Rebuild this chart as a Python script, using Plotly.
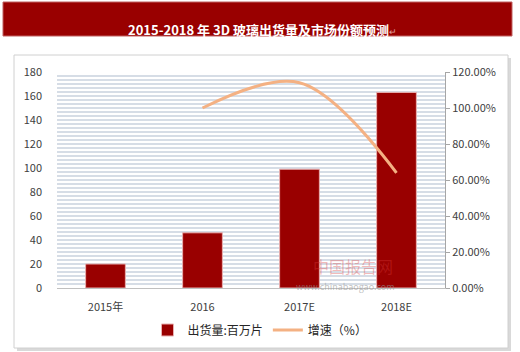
import plotly.graph_objects as go

categories = ["2015年", "2016", "2017E", "2018E"]
shipments = [20, 46, 99, 163]
growth_pct = [None, 100, 114, 64]
y_left_ticks = [0, 20, 40, 60, 80, 100, 120, 140, 160, 180]
y_right_ticks = [0, 20, 40, 60, 80, 100, 120]
y_right_labels = ["0.00%", "20.00%", "40.00%", "60.00%", "80.00%", "100.00%", "120.00%"]

FONT = "Noto Sans CJK SC, Noto Sans, sans-serif"
W, H = 520, 352
L, R, T, B = 57, 75, 72, 64
PW, PH = W - L - R, H - T - B


def px(x):
    return (x - L) / PW


def py(y):
    return (H - B - y) / PH


fig = go.Figure()
fig.add_trace(go.Bar(
    x=categories, y=shipments, name="出货量:百万片",
    marker=dict(color="#990000", line=dict(color="#e8b0b0", width=1)),
    yaxis="y",
))
fig.add_trace(go.Scatter(
    x=categories, y=growth_pct, name="增速（%）", mode="lines",
    line=dict(color="#f4b183", width=3, shape="spline", smoothing=1.0),
    yaxis="y2", connectgaps=False,
))

fig.update_layout(
    width=W, height=H,
    margin=dict(l=L, r=R, t=T, b=B, autoexpand=False),
    paper_bgcolor="white", plot_bgcolor="white",
    font=dict(family=FONT, size=11, color="#404040"),
    showlegend=True,
    legend=dict(orientation="h", xref="container", yref="container",
                x=0.5, xanchor="center", y=(H - 330) / H, yanchor="middle",
                font=dict(size=12, color="#262626"), traceorder="normal",
                bgcolor="rgba(0,0,0,0)"),
    bargap=0.59,
    xaxis=dict(showgrid=False, showline=True, linecolor="#c0c0c0", linewidth=1,
               ticks="", ticklabelstandoff=9, tickfont=dict(size=11, color="#404040")),
    yaxis=dict(range=[0, 180], tickvals=y_left_ticks, showgrid=False, zeroline=False,
               showline=False, ticks="", ticklabelstandoff=14,
               tickfont=dict(size=11, color="#404040"),
               minor=dict(dtick=180 / 54, showgrid=True, gridcolor="#d6dde6", gridwidth=2)),
    yaxis2=dict(range=[0, 120], overlaying="y", side="right", tickvals=y_right_ticks,
                ticktext=y_right_labels, showgrid=False, zeroline=False,
                showline=True, linecolor="#a6a6a6", linewidth=1,
                ticks="outside", ticklen=4, tickcolor="#a6a6a6",
                tickfont=dict(size=11, color="#404040")),
    shapes=[
        dict(type="rect", xref="paper", yref="paper",
             x0=px(3), x1=px(512), y0=py(36), y1=py(2),
             fillcolor="#990000", line=dict(color="#c06060", width=1), layer="below"),
        dict(type="rect", xref="paper", yref="paper",
             x0=px(17), x1=px(511), y0=py(351), y1=py(58),
             fillcolor="#d9d9d9", line=dict(width=0), layer="below"),
        dict(type="rect", xref="paper", yref="paper",
             x0=px(14), x1=px(508), y0=py(348), y1=py(55),
             fillcolor="white", line=dict(color="#d0d0d0", width=1), layer="below"),
    ],
    annotations=[
        dict(text="<b>2015-2018 年 3D 玻璃出货量及市场份额预测</b><span style='color:#e0a0a0;font-size:9px'>↵</span>",
             xref="paper", yref="paper", x=px(262), y=py(18),
             showarrow=False, font=dict(size=13, color="white", family=FONT)),
        dict(text="中国报告网", xref="paper", yref="paper",
             x=px(395), y=py(280),
             showarrow=False, font=dict(size=16, color="rgba(220,60,60,0.35)", family=FONT)),
        dict(text="www.chinabaogao.com", xref="paper", yref="paper",
             x=px(397), y=py(295),
             showarrow=False, font=dict(size=9, color="rgba(150,150,150,0.6)", family=FONT)),
    ],
)

fig.write_html("out.html")
